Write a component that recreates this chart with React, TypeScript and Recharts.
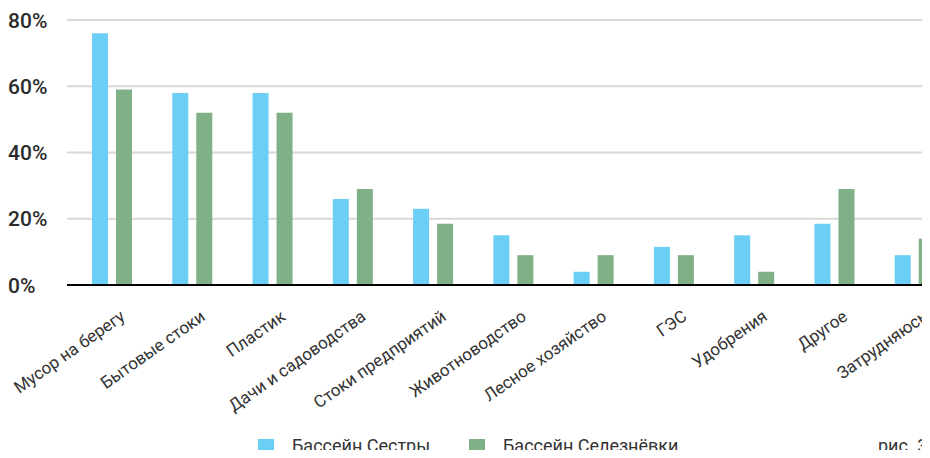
import React from 'react';
import { BarChart, Bar, XAxis, YAxis, CartesianGrid } from 'recharts';

const categories = [
  'Мусор на берегу',
  'Бытовые стоки',
  'Пластик',
  'Дачи и садоводства',
  'Стоки предприятий',
  'Животноводство',
  'Лесное хозяйство',
  'ГЭС',
  'Удобрения',
  'Другое',
  'Затрудняюсь',
];
const sestra = [76, 58, 58, 26, 23, 15, 4, 11.5, 15, 18.5, 9];
const seleznevka = [59, 52, 52, 29, 18.5, 9, 9, 9, 4, 29, 14];
const yTicks = [0, 20, 40, 60, 80];

const seriesNames = ['Бассейн Сестры', 'Бассейн Селезнёвки'];
const colors = ['#6bcef5', '#80b086'];

const data = categories.map((name, i) => ({ name, sestra: sestra[i], seleznevka: seleznevka[i] }));

const FONT = 'Roboto, "Noto Sans", sans-serif';

function XTick({ x, y, payload }: any) {
  return (
    <g transform={`translate(${x + 14},${y + 32})`}>
      <text textAnchor="end" transform="rotate(-35)" fontSize={17} fill="#333" fontFamily={FONT}>
        {payload.value}
      </text>
    </g>
  );
}

function YTick({ y, payload }: any) {
  return (
    <text x={8} y={y} dy="0.36em" textAnchor="start" fontSize={21} fontWeight={500} fill="#2b2b2b" fontFamily={FONT}>
      {payload.value}%
    </text>
  );
}

function LegendItem({ left, color, label }: { left: number; color: string; label: string }) {
  return (
    <>
      <div style={{ position: 'absolute', left, top: 439, width: 16, height: 16, background: color }} />
      <div style={{ position: 'absolute', left: left + 34, top: 436, fontSize: 18, lineHeight: '20px', color: '#333', whiteSpace: 'nowrap' }}>
        {label}
      </div>
    </>
  );
}

export default function App() {
  return (
    <div style={{ margin: -8, width: 930, height: 458, overflow: 'hidden', position: 'relative', background: '#fff', fontFamily: FONT }}>
      <BarChart
        width={980}
        height={458}
        data={data}
        margin={{ top: 20, right: 25, left: 0, bottom: 0 }}
        barSize={16}
        barGap={8}
      >
        <CartesianGrid vertical={false} stroke="#d9d9d9" strokeWidth={2} />
        <XAxis
          dataKey="name"
          interval={0}
          height={173}
          padding={{ left: 5, right: 0 }}
          axisLine={{ stroke: '#000', strokeWidth: 2 }}
          tickLine={false}
          tickSize={0}
          tick={<XTick />}
        />
        <YAxis
          width={67}
          domain={[0, 80]}
          ticks={yTicks}
          axisLine={false}
          tickLine={false}
          tick={<YTick />}
        />
        <Bar dataKey="sestra" name={seriesNames[0]} fill={colors[0]} isAnimationActive={false} />
        <Bar dataKey="seleznevka" name={seriesNames[1]} fill={colors[1]} isAnimationActive={false} />
      </BarChart>
      <LegendItem left={258} color={colors[0]} label={seriesNames[0]} />
      <LegendItem left={469} color={colors[1]} label={seriesNames[1]} />
      <div style={{ position: 'absolute', left: 878, top: 436, fontSize: 18, lineHeight: '20px', color: '#333', whiteSpace: 'nowrap' }}>
        рис. 3
      </div>
    </div>
  );
}
